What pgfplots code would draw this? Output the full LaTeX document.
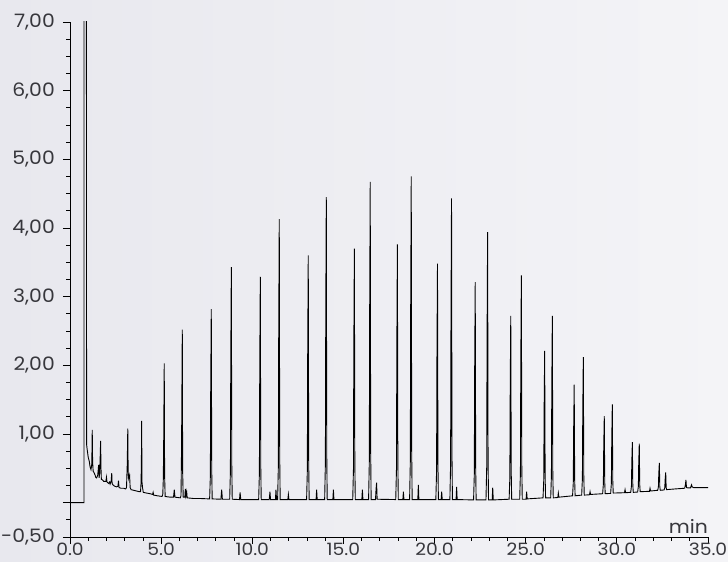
\documentclass[border=0pt]{standalone}
\usepackage{pgfplots}
\pgfplotsset{compat=1.18}
\usepackage{fontspec}
\setmainfont{Poppins}
\newfontfamily\tickfont{Poppins}[FakeStretch=1.1]
\definecolor{bgL}{RGB}{232,232,238}
\definecolor{bgR}{RGB}{244,244,247}
\definecolor{txt}{RGB}{55,55,60}
\begin{document}
\begin{tikzpicture}
\shade[left color=bgL, right color=bgR] (-70pt,-25pt) rectangle (658pt,537pt);
\begin{axis}[
  at={(0pt,0pt)}, anchor=south west,
  scale only axis, width=638pt, height=515pt,
  xmin=0, xmax=35, ymin=-0.5, ymax=7,
  axis lines=left,
  axis line style={-, black, line width=0.8pt},
  tick align=outside,
  major tick length=7pt, minor tick length=3.5pt,
  every tick/.style={black, line width=0.8pt},
  xtick={0,5,...,35},
  xticklabels={0.0,5.0,10.0,15.0,20.0,25.0,30.0,35.0},
  minor xtick={1,2,3,4,6,7,8,9,11,12,13,14,16,17,18,19,21,22,23,24,26,27,28,29,31,32,33,34},
  ytick={-0.5,0,1,2,3,4,5,6,7},
  yticklabels={{-0,50},{},{1,00},{2,00},{3,00},{4,00},{5,00},{6,00},{7,00}},
  minor ytick={-0.25,0.25,0.5,0.75,1.25,1.5,1.75,2.25,2.5,2.75,3.25,3.5,3.75,4.25,4.5,4.75,5.25,5.5,5.75,6.25,6.5,6.75},
  ticklabel style={font=\tickfont\fontsize{18.5}{20}\selectfont, text=txt},
  yticklabel style={anchor=east, inner sep=0pt, xshift=-8pt},
  xticklabel style={anchor=north, inner sep=0pt, yshift=1pt, font=\tickfont\fontsize{17}{18}\selectfont},
  clip=true,
]
\addplot[black, line width=0.9pt] coordinates {
(0,0) (0.77,0) (0.77,7.6) (0.90,7.6) (0.91,0.85) (0.94,0.78) (1.0,0.66) (1.06,0.60) (1.10,0.52) (1.15,0.48)
(1.19,0.55) (1.21,0.80) (1.22,1.06) (1.24,0.60) (1.27,0.46)
(1.33,0.43) (1.38,0.40) (1.41,0.37) (1.46,0.36)
(1.52,0.40) (1.55,0.48) (1.57,0.55) (1.60,0.36)
(1.63,0.45) (1.66,0.70) (1.68,0.90) (1.70,0.50) (1.72,0.34)
(1.79,0.33) (1.85,0.31)
(1.97,0.31) (2.00,0.37) (2.03,0.30) (2.12,0.28) (2.17,0.30) (2.20,0.27)
(2.26,0.32) (2.29,0.43) (2.31,0.28) (2.35,0.26)
(2.45,0.24) (2.55,0.23) (2.63,0.24) (2.66,0.32) (2.69,0.22) (2.8,0.21) (2.95,0.21) (3.05,0.20)
(3.10,0.22) (3.14,0.55) (3.17,1.08) (3.19,0.45) (3.22,0.35) (3.25,0.38) (3.27,0.40) (3.30,0.22) (3.35,0.19)
(3.5,0.18) (3.65,0.17) (3.8,0.16) (3.87,0.16)
(3.90,0.30) (3.92,0.70) (3.93,1.19) (3.95,0.30) (3.98,0.22) (4.02,0.15)
(4.2,0.14) (4.4,0.13) (4.53,0.12) (4.56,0.15) (4.59,0.11) (4.8,0.10) (5.05,0.09)
(5.09,0.12) (5.12,0.35) (5.14,0.90) (5.17,2.03) (5.19,0.40) (5.22,0.09)
(5.5,0.08) (5.68,0.08) (5.72,0.19) (5.76,0.08) (6.05,0.07)
(6.09,0.10) (6.12,0.80) (6.16,2.52) (6.18,0.45) (6.21,0.08) (6.3,0.08) (6.33,0.20) (6.36,0.10) (6.4,0.16) (6.43,0.07)
(6.8,0.06) (7.2,0.06) (7.63,0.055)
(7.66,0.055) (7.70,0.39) (7.72,1.71) (7.75,2.82) (7.775,0.47) (7.80,0.055)
(8.28,0.05) (8.32,0.19) (8.36,0.05)
(8.76,0.05) (8.80,0.46) (8.82,2.08) (8.85,3.43) (8.875,0.56) (8.90,0.05)
(9.30,0.045) (9.33,0.15) (9.37,0.045)
(10.35,0.045) (10.39,0.43) (10.41,1.99) (10.44,3.29) (10.465,0.53) (10.49,0.045)
(10.93,0.045) (10.97,0.16) (11.0,0.045) (11.27,0.045) (11.30,0.19) (11.33,0.045)
(11.39,0.045) (11.43,0.535) (11.45,2.50) (11.48,4.13) (11.505,0.66) (11.53,0.045)
(11.95,0.045) (11.98,0.12) (12.01,0.045)
(12.98,0.045) (13.02,0.47) (13.04,2.18) (13.07,3.60) (13.095,0.58) (13.12,0.045)
(13.50,0.045) (13.53,0.19) (13.56,0.045)
(13.97,0.045) (14.01,0.575) (14.03,2.69) (14.06,4.45) (14.085,0.71) (14.11,0.045)
(14.42,0.045) (14.45,0.19) (14.48,0.045)
(15.51,0.045) (15.55,0.485) (15.57,2.24) (15.60,3.70) (15.625,0.59) (15.65,0.045)
(16.01,0.045) (16.04,0.19) (16.07,0.045)
(16.38,0.045) (16.42,0.60) (16.44,2.82) (16.47,4.67) (16.495,0.74) (16.52,0.045)
(16.76,0.045) (16.79,0.20) (16.82,0.29) (16.85,0.05)
(17.87,0.045) (17.91,0.49) (17.93,2.27) (17.96,3.76) (17.985,0.60) (18.01,0.045)
(18.26,0.045) (18.29,0.16) (18.32,0.045)
(18.63,0.045) (18.67,0.61) (18.69,2.87) (18.72,4.75) (18.745,0.75) (18.77,0.045)
(19.08,0.045) (19.11,0.26) (19.14,0.045)
(20.07,0.045) (20.11,0.46) (20.13,2.11) (20.16,3.48) (20.185,0.56) (20.21,0.045)
(20.36,0.045) (20.39,0.16) (20.42,0.045)
(20.84,0.045) (20.88,0.57) (20.90,2.68) (20.93,4.43) (20.955,0.70) (20.98,0.045)
(21.18,0.045) (21.21,0.23) (21.24,0.045)
(22.14,0.04) (22.18,0.42) (22.20,1.94) (22.23,3.21) (22.255,0.52) (22.28,0.04)
(22.82,0.04) (22.86,0.51) (22.88,2.38) (22.91,3.94) (22.935,0.63) (22.96,0.04)
(23.16,0.04) (23.19,0.22) (23.22,0.04)
(24.09,0.05) (24.13,0.37) (24.15,1.65) (24.18,2.72) (24.205,0.45) (24.23,0.05)
(24.67,0.05) (24.71,0.44) (24.73,2.01) (24.76,3.31) (24.785,0.54) (24.81,0.05)
(25.02,0.05) (25.05,0.16) (25.08,0.055)
(25.95,0.07) (25.99,0.33) (26.01,1.35) (26.04,2.21) (26.065,0.39) (26.09,0.07)
(26.37,0.07) (26.41,0.39) (26.43,1.66) (26.46,2.72) (26.485,0.47) (26.51,0.07)
(26.76,0.075) (26.79,0.14) (26.82,0.08)
(27.57,0.10) (27.61,0.29) (27.63,1.07) (27.66,1.72) (27.685,0.34) (27.71,0.10)
(28.07,0.11) (28.11,0.35) (28.13,1.32) (28.16,2.12) (28.185,0.41) (28.21,0.11)
(28.50,0.115) (28.53,0.16) (28.56,0.12)
(29.22,0.13) (29.26,0.27) (29.28,0.81) (29.31,1.26) (29.335,0.30) (29.36,0.13)
(29.66,0.135) (29.70,0.29) (29.72,0.91) (29.75,1.43) (29.775,0.33) (29.80,0.14)
(30.42,0.145) (30.45,0.19) (30.48,0.145)
(30.76,0.15) (30.80,0.24) (30.82,0.59) (30.85,0.88) (30.875,0.26) (30.90,0.15)
(31.14,0.155) (31.18,0.24) (31.20,0.58) (31.23,0.86) (31.255,0.26) (31.28,0.16)
(31.79,0.165) (31.82,0.21) (31.85,0.17)
(32.24,0.18) (32.28,0.23) (32.30,0.42) (32.33,0.58) (32.355,0.24) (32.38,0.18)
(32.59,0.185) (32.63,0.22) (32.65,0.34) (32.68,0.44) (32.705,0.22) (32.73,0.19)
(33.2,0.20)
(33.72,0.21) (33.76,0.26) (33.79,0.33) (33.82,0.22) (33.9,0.215)
(34.04,0.215) (34.07,0.24) (34.10,0.26) (34.13,0.23) (34.2,0.22)
(35.0,0.22)
};
\end{axis}
\node[anchor=south east, inner sep=0pt, text=txt, font=\tickfont\fontsize{18.5}{20}\selectfont] at (638pt,3pt) {min};
\pgfresetboundingbox
\path[use as bounding box] (-70pt,-25pt) rectangle (658pt,537pt);
\end{tikzpicture}
\end{document}
